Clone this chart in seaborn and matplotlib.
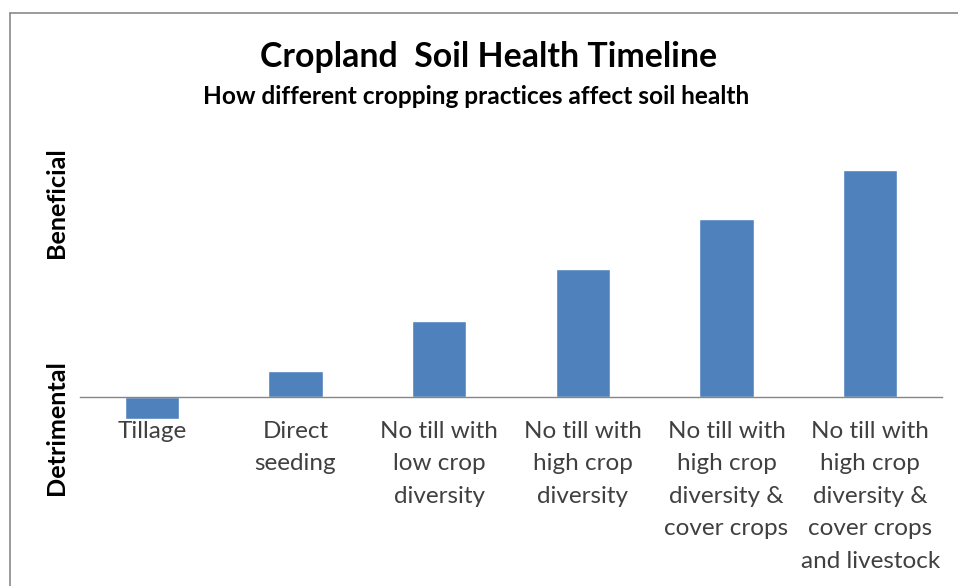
import matplotlib
matplotlib.use("Agg")
import matplotlib.pyplot as plt
from matplotlib.lines import Line2D
import seaborn as sns
import pandas as pd

# Practices, ordered from most detrimental to most beneficial
practices = [
    "Tillage",
    "Direct\nseeding",
    "No till with\nlow crop\ndiversity",
    "No till with\nhigh crop\ndiversity",
    "No till with\nhigh crop\ndiversity &\ncover crops",
    "No till with\nhigh crop\ndiversity &\ncover crops\nand livestock",
]
# Relative soil-health effect of each practice
effect = [-0.44, 0.52, 1.52, 2.56, 3.56, 4.54]

df = pd.DataFrame({"practice": practices, "effect": effect})

sns.set_theme(style="white")
plt.rcParams["font.family"] = ["Lato", "DejaVu Sans"]

W, H = 958, 586
fig = plt.figure(figsize=(W / 100, H / 100), dpi=100)

# Axes placed in pixel terms: x from 80 to 942, y from 140 to 580 (from top)
left, right, top, bottom = 80, 942, 140, 580
ax = fig.add_axes([left / W, 1 - bottom / H, (right - left) / W, (bottom - top) / H])

bar_color = "#4F81BD"
sns.barplot(data=df, x="practice", y="effect", color=bar_color, width=0.38,
            saturation=1, ax=ax)

ax.set_xlim(-0.5, 5.5)
ax.set_ylim(-(bottom - 397) / 50, (397 - top) / 50)

# Category axis sits on the zero line
for s in ["left", "right", "top"]:
    ax.spines[s].set_visible(False)
ax.spines["bottom"].set_position(("data", 0))
ax.spines["bottom"].set_color("#868686")
ax.spines["bottom"].set_linewidth(1.0)
ax.set_yticks([])
ax.set_xlabel("")
ax.set_ylabel("")

ax.set_xticks(range(len(practices)))
ax.set_xticklabels(practices, fontsize=17.5, color="#404040", linespacing=1.68,
                   va="top")
ax.tick_params(axis="x", which="major", length=0, pad=17)
ax.set_xticks([i - 0.5 for i in range(len(practices) + 1)], minor=True)
ax.tick_params(axis="x", which="minor", length=6, direction="out",
               color="#868686", width=1.0)

# Titles
fig.text(489 / W, 1 - 57 / H, "Cropland  Soil Health Timeline", ha="center",
         va="center", fontsize=24.4, fontweight="bold", color="black")
fig.text(476 / W, 1 - 97 / H, "How different cropping practices affect soil health",
         ha="center", va="center", fontsize=17.6, fontweight="bold", color="black")

# Axis end labels
fig.text(57 / W, 1 - 203 / H, "Beneficial", rotation=90, ha="center", va="center",
         fontsize=18.2, fontweight="bold", color="black")
fig.text(57 / W, 1 - 428 / H, "Detrimental", rotation=90, ha="center", va="center",
         fontsize=18.2, fontweight="bold", color="black")

# Chart frame
frame = "#8a8a8a"
fig.add_artist(Line2D([10 / W, 1], [1 - 13 / H, 1 - 13 / H], color=frame, lw=1.2))
fig.add_artist(Line2D([10 / W, 10 / W], [0, 1 - 13 / H], color=frame, lw=1.2))

fig.savefig("out.png", dpi=100)
